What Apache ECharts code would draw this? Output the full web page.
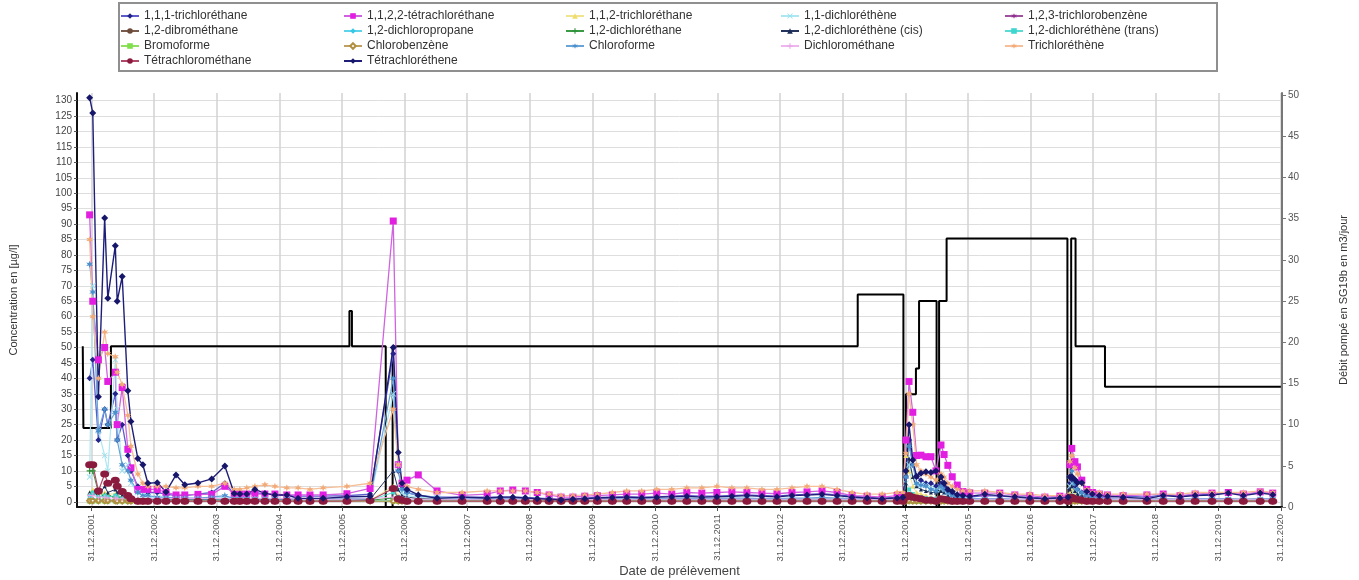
<!DOCTYPE html>
<html><head><meta charset="utf-8">
<script src="https://cdn.jsdelivr.net/npm/echarts@6/dist/echarts.min.js"></script>
<style>html,body{margin:0;padding:0;background:#fff}#c{width:1359px;height:580px}</style>
</head><body><div id="c"></div>
<script>
// ---------- DATA ----------
// sampling dates as decimal years
const sampleDates = [
 2001.97,2002.02,2002.11,2002.21,2002.26,2002.38,2002.41,2002.49,2002.58,2002.63,2002.74,2002.82,2002.90,2003.05,
 2003.19,2003.35,2003.49,2003.70,2003.92,2004.13,2004.28,2004.37,2004.48,2004.61,2004.77,2004.93,2005.12,2005.30,2005.49,2005.70,2006.08,2006.45,
 2006.82,2006.90,2006.96,2007.04,2007.22,2007.52,2007.92,2008.32,2008.53,
 2008.73,2008.93,2009.12,2009.31,2009.50,2009.69,2009.88,2010.08,2010.32,2010.55,2010.79,2011.03,2011.27,2011.51,2011.75,2011.99,2012.23,2012.47,2012.71,2012.95,2013.19,2013.43,2013.67,2013.91,2014.15,2014.39,2014.63,2014.87,
 2014.96,2015.01,2015.06,2015.12,2015.18,2015.25,2015.33,2015.41,2015.49,2015.57,2015.62,2015.68,2015.75,2015.83,2015.92,2016.03,
 2016.27,2016.51,2016.75,2016.99,2017.23,2017.47,
 2017.60,2017.63,2017.66,2017.71,2017.75,2017.82,2017.90,2017.99,2018.10,2018.23,
 2018.48,2018.86,2019.12,2019.39,2019.63,2019.90,2020.16,2020.40,2020.67,2020.87
];

const trichloroethane111 = [
 40,46,20,30,25,35,20,25,15,10,5,4,3,3,
 2.5,2,2,2.5,3,6,2.5,2.5,2.5,3,2.5,2.2,2,1.8,1.8,1.8,2,2.5,
 48,10,5,3,2,1.5,1.5,1.5,1.5,
 1.5,1.4,1.2,1,0.8,1,1.2,1.4,1.5,1.6,1.5,1.6,1.8,2,1.8,1.8,2,2.2,2,1.8,2.2,2.4,2.6,2.2,1.8,1.4,1.2,1.4,
 1.5,8,20,12,8,7,6,6,5,6,5,3.5,2.5,2,1.8,1.5,
 2,1.8,1.5,1.5,1.2,1.4,
 1.2,6,7,5,4,3,2,1.8,1.5,1.5,
 1.8,1.5,2.2,1.8,2.2,2.4,3,2.2,3,2.6
];
const tetrachloroethane1122 = [
 93,65,46,50,39,42,25,37,17,11,4,4,4,4,
 3,2.2,2.2,2.4,2.4,5,2.5,2.5,2.5,2.5,2.5,2.5,2.2,2.2,2.2,2.2,2.6,4.3,
 91,12,6,7,8.7,3.5,2.1,2.5,3.5,
 3.8,3.5,3.0,2.2,1.5,1.5,1.8,2.0,2.2,2.5,2.5,2.8,2.5,3.0,2.8,3.0,3.2,3.0,2.8,2.6,3.0,3.2,3.5,3.0,2.0,1.8,1.5,2.0,
 2,20,39,29,15,15.1,14.6,14.6,10,18.4,15.3,11.8,8.1,5.4,3.3,2.9,
 2.8,2.8,2.2,2.0,1.5,1.8,
 1.5,12,17.3,13,11.3,7,4,3,2.5,2.2,
 2.0,2.2,2.5,2.0,2.5,2.8,3.0,2.5,3.2,2.8
];
const trichloroethane112 = [
 3,4,2,3,2.5,2.5,2,1.5,1,0.8,0.6,0.5,0.5,0.5,
 0.5,0.5,0.5,0.5,0.5,0.6,0.5,0.5,0.5,0.5,0.5,0.5,0.5,0.4,0.4,0.4,0.5,0.5,
 5,2,1,0.8,0.6,0.5,0.5,0.5,0.5,
 0.5,0.5,0.4,0.4,0.4,0.4,0.4,0.5,0.5,0.5,0.5,0.5,0.5,0.5,0.5,0.5,0.5,0.5,0.5,0.5,0.5,0.5,0.5,0.5,0.5,0.4,0.4,0.5,
 0.5,15,10,5,3,2.5,2,1.5,1.2,1.5,1.2,1,0.8,0.6,0.5,0.5,
 0.5,0.5,0.5,0.5,0.5,0.5,
 0.5,3,4,2.5,1.5,1,0.8,0.6,0.5,0.5,
 0.5,0.5,0.5,0.5,0.5,0.5,0.5,0.5,0.5,0.5
];
const dichloroethene11 = [
 8,70,23,15,10,46,30,10,12,6,3,2,1.5,1,
 1,0.8,0.8,0.8,1,1.5,0.8,0.8,0.8,0.8,0.8,0.8,0.8,0.6,0.6,0.6,0.8,1,
 35,12,3,2,1.5,1,0.8,0.8,0.8,
 0.8,0.8,0.7,0.6,0.5,0.5,0.6,0.6,0.7,0.8,0.8,0.8,0.8,0.9,0.8,0.8,0.9,0.9,0.8,0.8,0.9,0.9,1,0.9,0.8,0.7,0.6,0.7,
 0.8,6,12,8,5,5.4,5.4,4.5,4,4,3,2.5,1.5,1.2,1,0.8,
 0.8,0.8,0.6,0.6,0.6,0.6,
 0.6,5,6,4,3,2,1.5,1,0.8,0.8,
 0.6,0.6,0.7,0.6,0.7,0.7,0.8,0.7,0.8,0.7
];
const trichlorobenzene123 = [
 0.3,0.3,0.3,0.3,0.3,0.3,0.3,0.2,0.2,0.2,0.2,0.2,0.2,0.2,
 0.2,0.2,0.2,0.2,0.2,0.2,0.2,0.2,0.2,0.2,0.2,0.2,0.2,0.2,0.2,0.2,0.2,0.2,
 0.3,0.2,0.2,0.2,0.2,0.2,0.2,0.2,0.2,
 0.2,0.2,0.2,0.2,0.2,0.2,0.2,0.2,0.2,0.2,0.2,0.2,0.2,0.2,0.2,0.2,0.2,0.2,0.2,0.2,0.2,0.2,0.2,0.2,0.2,0.2,0.2,0.2,
 0.2,0.3,0.4,0.3,0.2,0.2,0.2,0.2,0.2,0.2,0.2,0.2,0.2,0.2,0.2,0.2,
 0.2,0.2,0.2,0.2,0.2,0.2,
 0.2,0.3,0.3,0.2,0.2,0.2,0.2,0.2,0.2,0.2,
 0.2,0.2,0.2,0.2,0.2,0.2,0.2,0.2,0.2,0.2
];
const dibromoethane12 = [
 0.5,0.5,0.4,0.4,0.3,0.3,0.3,0.3,0.2,0.2,0.2,0.2,0.2,0.2,
 0.2,0.2,0.2,0.2,0.2,0.2,0.2,0.2,0.2,0.2,0.2,0.2,0.2,0.2,0.2,0.2,0.2,0.2,
 0.2,0.2,0.2,0.2,0.2,0.2,0.2,0.2,0.2,
 0.2,0.2,0.2,0.2,0.2,0.2,0.2,0.2,0.2,0.2,0.2,0.2,0.2,0.2,0.2,0.2,0.2,0.2,0.2,0.2,0.2,0.2,0.2,0.2,0.2,0.2,0.2,0.2,
 0.2,0.2,0.3,0.2,0.2,0.2,0.2,0.2,0.2,0.2,0.2,0.2,0.2,0.2,0.2,0.2,
 0.2,0.2,0.2,0.2,0.2,0.2,
 0.2,0.2,0.2,0.2,0.2,0.2,0.2,0.2,0.2,0.2,
 0.2,0.2,0.2,0.2,0.2,0.2,0.2,0.2,0.2,0.2
];
const dichloropropane12 = [
 1,1,0.8,0.8,0.6,0.6,0.5,0.5,0.4,0.4,0.3,0.3,0.3,0.3,
 0.3,0.3,0.3,0.3,0.3,0.3,0.3,0.3,0.3,0.3,0.3,0.3,0.3,0.3,0.3,0.3,0.3,0.3,
 0.5,0.3,0.3,0.3,0.3,0.3,0.3,0.3,0.3,
 0.3,0.3,0.3,0.3,0.3,0.3,0.3,0.3,0.3,0.3,0.3,0.3,0.3,0.3,0.3,0.3,0.3,0.3,0.3,0.3,0.3,0.3,0.3,0.3,0.3,0.3,0.3,0.3,
 0.3,0.6,0.8,0.5,0.4,0.4,0.3,0.3,0.3,0.3,0.3,0.3,0.3,0.3,0.3,0.3,
 0.3,0.3,0.3,0.3,0.3,0.3,
 0.3,0.5,0.5,0.4,0.3,0.3,0.3,0.3,0.3,0.3,
 0.3,0.3,0.3,0.3,0.3,0.3,0.3,0.3,0.3,0.3
];
const dichloroethane12 = [
 10,10,3,2,2,1.5,1.5,1,1,0.8,0.5,0.5,0.5,0.5,
 0.5,0.5,0.5,0.5,0.5,0.5,0.5,0.5,0.5,0.5,0.5,0.5,0.5,0.5,0.5,0.5,0.5,0.5,
 1.2,0.8,0.6,0.5,0.5,0.5,0.5,0.5,0.5,
 0.5,0.5,0.5,0.5,0.5,0.5,0.5,0.5,0.5,0.5,0.5,0.5,0.5,0.5,0.5,0.5,0.5,0.5,0.5,0.5,0.5,0.5,0.5,0.5,0.5,0.5,0.5,0.5,
 0.5,1.5,2,1.5,1,1,0.8,0.8,0.6,0.8,0.6,0.5,0.5,0.5,0.5,0.5,
 0.5,0.5,0.5,0.5,0.5,0.5,
 0.5,1,1,0.8,0.6,0.5,0.5,0.5,0.5,0.5,
 0.5,0.5,0.5,0.5,0.5,0.5,0.5,0.5,0.5,0.5
];
const dichloroetheneCis = [
 3,3,2,5,3,4,3,2,1.5,1,0.8,0.8,0.8,0.8,
 0.8,0.8,0.8,0.8,0.8,0.8,0.8,0.8,0.8,0.8,0.8,0.8,0.8,0.8,0.8,0.8,0.8,0.8,
 10,4,2,1.5,1,0.8,0.8,0.8,0.8,
 0.8,0.8,0.8,0.8,0.8,0.8,0.8,0.8,0.8,0.8,0.8,0.8,0.8,0.8,0.8,0.8,0.8,0.8,0.8,0.8,0.8,0.8,0.8,0.8,0.8,0.8,0.8,0.8,
 0.8,6,14,8,5,4,3.5,3,3,3.5,3,2,1.5,1,1,0.8,
 0.8,0.8,0.8,0.8,0.8,0.8,
 0.8,4,5,3.5,2.5,2,1.5,1,0.8,0.8,
 0.8,0.8,0.8,0.8,0.8,0.8,0.8,0.8,0.8,0.8
];
const dichloroetheneTrans = [
 2,3,1.5,2,1.5,2,1.5,1,0.8,0.6,0.5,0.5,0.5,0.5,
 0.5,0.5,0.5,0.5,0.5,0.6,0.5,0.5,0.5,0.5,0.5,0.5,0.5,0.4,0.4,0.4,0.5,0.5,
 3,1.5,0.8,0.6,0.5,0.5,0.5,0.5,0.5,
 0.5,0.5,0.5,0.5,0.5,0.5,0.5,0.5,0.5,0.5,0.5,0.5,0.5,0.5,0.5,0.5,0.5,0.5,0.5,0.5,0.5,0.5,0.5,0.5,0.5,0.5,0.5,0.5,
 0.5,2,4,2.5,1.5,1.5,1.2,1,1,1.2,1,0.8,0.6,0.5,0.5,0.5,
 0.5,0.5,0.5,0.5,0.5,0.5,
 0.5,1.5,2,1.5,1,0.8,0.6,0.5,0.5,0.5,
 0.5,0.5,0.5,0.5,0.5,0.5,0.5,0.5,0.5,0.5
];
const bromoforme = [
 0.2,0.2,0.2,0.2,0.2,0.2,0.2,0.2,0.2,0.2,0.2,0.2,0.2,0.2,
 0.2,0.2,0.2,0.2,0.2,0.2,0.2,0.2,0.2,0.2,0.2,0.2,0.2,0.2,0.2,0.2,0.2,0.2,
 0.2,0.2,0.2,0.2,0.2,0.2,0.2,0.2,0.2,
 0.2,0.2,0.2,0.2,0.2,0.2,0.2,0.2,0.2,0.2,0.2,0.2,0.2,0.2,0.2,0.2,0.2,0.2,0.2,0.2,0.2,0.2,0.2,0.2,0.2,0.2,0.2,0.2,
 0.2,0.2,0.2,0.2,0.2,0.2,0.2,0.2,0.2,0.2,0.2,0.2,0.2,0.2,0.2,0.2,
 0.2,0.2,0.2,0.2,0.2,0.2,
 0.2,0.2,0.2,0.2,0.2,0.2,0.2,0.2,0.2,0.2,
 0.2,0.2,0.2,0.2,0.2,0.2,0.2,0.2,0.2,0.2
];
const chlorobenzene = [
 0.3,0.3,0.3,0.3,0.3,0.3,0.2,0.2,0.2,0.2,0.2,0.2,0.2,0.2,
 0.2,0.2,0.2,0.2,0.2,0.2,0.2,0.2,0.2,0.2,0.2,0.2,0.2,0.2,0.2,0.2,0.2,0.2,
 0.2,0.2,0.2,0.2,0.2,0.2,0.2,0.2,0.2,
 0.2,0.2,0.2,0.2,0.2,0.2,0.2,0.2,0.2,0.2,0.2,0.2,0.2,0.2,0.2,0.2,0.2,0.2,0.2,0.2,0.2,0.2,0.2,0.2,0.2,0.2,0.2,0.2,
 0.2,0.2,0.3,0.2,0.2,0.2,0.2,0.2,0.2,0.2,0.2,0.2,0.2,0.2,0.2,0.2,
 0.2,0.2,0.2,0.2,0.2,0.2,
 0.2,0.2,0.2,0.2,0.2,0.2,0.2,0.2,0.2,0.2,
 0.2,0.2,0.2,0.2,0.2,0.2,0.2,0.2,0.2,0.2
];
const chloroforme = [
 77,68,23,30,25,29,20,12,10,7,3,2,2,1.5,
 1.5,1.2,1.2,1.2,1.5,2,1,1,1,1,1,1,1,0.8,0.8,0.8,1,1.2,
 40,10,4,3,2,1.5,1,1,1,
 1,1,0.8,0.8,0.6,0.6,0.8,0.8,1,1,1,1,1,1.2,1,1,1.2,1.2,1,1,1.2,1.2,1.4,1.2,1,0.8,0.8,1,
 1,8,18,12,6,5.4,5,4,3.5,5,4,3,2,1.5,1.2,1,
 1,1,0.8,0.8,0.8,0.8,
 0.8,8,10,6,4,3,2,1.5,1.2,1,
 0.8,0.8,1,0.8,1,1,1,0.8,1,1
];
const dichloromethane = [
 2,2,1.5,1.5,1.2,1.2,1,1,1,1,1,1,1,1,
 1,1,1,1,1,1,1,1,1,1,1,1,1,0.8,0.8,0.8,0.8,1,
 1.5,1,1,0.8,0.8,0.8,0.8,0.8,0.8,
 0.8,0.8,0.8,0.8,0.8,0.8,0.8,0.8,0.8,0.8,0.8,0.8,0.8,0.8,0.8,0.8,0.8,0.8,0.8,0.8,0.8,0.8,0.8,0.8,0.8,0.8,0.8,0.8,
 0.8,1.2,1.5,1.2,1,1,1,1,0.8,1,0.8,0.8,0.8,0.8,0.8,0.8,
 0.8,0.8,0.8,0.8,0.8,0.8,
 0.8,1,1.2,1,0.8,0.8,0.8,0.8,0.8,0.8,
 0.8,0.8,0.8,0.8,0.8,0.8,0.8,0.8,0.8,0.8
];
const trichloroethene = [
 85,60,40,55,48,47,42,38,28,18,9,6,5,5,
 5,4.5,4.5,5,5,6,4,4,4.5,5,5.5,5,4.5,4.5,4,4.5,5,6,
 30,12,6,5,4,3,3,3.5,3.5,
 3.5,3.5,3,2.5,2,2,2.2,2.5,3,3.5,3.5,4,4,4.5,4.5,5,4.5,4.5,4,4,4.5,5,5,4,3,2.5,2.5,3,
 3,15.7,35,25,12,10,9,8,7,9,8,6,5,4,3.5,3.5,
 3.5,3,2.5,2.5,2,2,
 2,13,15,11,9,6,4,3,3,2.5,
 2.5,2.5,2.5,2.5,3,3,3,3,3.5,3
];
const tetrachloromethane = [
 12,12,3.5,9,6,7,5,3.3,2,1,0.2,0.2,0.2,0.2,
 0.2,0.2,0.2,0.2,0.2,0.2,0.2,0.2,0.2,0.2,0.2,0.2,0.2,0.2,0.2,0.2,0.2,0.4,
 4.3,1,0.5,0.2,0.2,0.2,0.2,0.2,0.2,
 0.2,0.2,0.2,0.2,0.2,0.2,0.2,0.2,0.2,0.2,0.2,0.2,0.2,0.2,0.2,0.2,0.2,0.2,0.2,0.2,0.2,0.2,0.2,0.2,0.2,0.2,0.2,0.2,
 0.2,1.5,2,1.5,1.2,1,0.5,0.5,0.2,1,0.8,0.5,0.2,0.2,0.2,0.2,
 0.2,0.2,0.2,0.2,0.2,0.2,
 0.2,1.5,1.5,1,0.8,0.5,0.2,0.2,0.2,0.2,
 0.2,0.2,0.2,0.2,0.2,0.2,0.2,0.2,0.2,0.2
];
const tetrachloroethene = [
 131,126,34,92,66,83,65,73,36,26,14,12,6,6.2,
 3.2,8.7,5.5,6.1,7.4,11.6,2.7,2.5,2.5,4.0,2.7,2.2,2.2,1.1,1.1,1.1,1.6,1.8,
 50,16,6,4,2.2,1.1,1.5,1.2,1.5,
 1.5,1.2,1.0,0.8,0.6,0.8,1.0,1.2,1.4,1.5,1.3,1.5,1.6,1.8,1.5,1.6,1.8,2.0,1.8,1.6,2.0,2.2,2.4,2.0,1.5,1.2,1.0,1.2,
 1.5,10,25,13.5,8.3,9.2,9.7,9.5,10,8,6,4,3.3,2.3,2.0,1.8,
 2.4,2.0,1.6,1.2,1.0,1.2,
 1.5,8,8.1,7.1,6.2,6.2,3.3,2.5,2.0,1.8,
 1.5,1.0,2.0,1.6,2.0,2.2,2.8,2.0,2.8,2.3
];

// pumped flow (right axis), change points
const flowDates  = [2001.86,2001.87,2002.31,2006.12,2006.16,2006.70,2006.81,2014.24,2014.97,2015.01,2015.17,2015.22,2015.50,2015.54,2015.66,2017.59,2017.65,2017.72,2018.19,2021.00];
const flowValues = [19.5,   9.6,    19.5,   23.8,   19.5,   0,      19.5,   25.8,   0,      13.7,   16.8,   25.0,   0,      25.0,   32.6,   0,      32.6,   19.5,   14.6,   14.6];

const yearTickValues = [2002,2003,2004,2005,2006,2007,2008,2009,2010,2011,2012,2013,2014,2015,2016,2017,2018,2019,2020,2021];
const yearTickLabels = ['31.12.2001','31.12.2002','31.12.2003','31.12.2004','31.12.2005','31.12.2006','31.12.2007','31.12.2008','31.12.2009','31.12.2010','31.12.2011','31.12.2012','31.12.2013','31.12.2014','31.12.2015','31.12.2016','31.12.2017','31.12.2018','31.12.2019','31.12.2020'];
const concTicks = [0,5,10,15,20,25,30,35,40,45,50,55,60,65,70,75,80,85,90,95,100,105,110,115,120,125,130];
const flowTicks = [0,5,10,15,20,25,30,35,40,45,50];

const seriesNames = ['1,1,1-trichloréthane','1,1,2,2-tétrachloréthane','1,1,2-trichloréthane','1,1-dichloréthène','1,2,3-trichlorobenzène',
 '1,2-dibrométhane','1,2-dichloropropane','1,2-dichloréthane','1,2-dichloréthène (cis)','1,2-dichloréthène (trans)',
 'Bromoforme','Chlorobenzène','Chloroforme','Dichlorométhane','Trichloréthène','Tétrachlorométhane','Tétrachloréthene'];
const seriesValues = [trichloroethane111,tetrachloroethane1122,trichloroethane112,dichloroethene11,trichlorobenzene123,
 dibromoethane12,dichloropropane12,dichloroethane12,dichloroetheneCis,dichloroetheneTrans,
 bromoforme,chlorobenzene,chloroforme,dichloromethane,trichloroethene,tetrachloromethane,tetrachloroethene];

// ---------- STYLE ----------
const STAR = 'path://M5,0L6.2,3.3L9.3,2.5L7.2,5L9.3,7.5L6.2,6.7L5,10L3.8,6.7L0.7,7.5L2.8,5L0.7,2.5L3.8,3.3Z';
const PLUS = 'path://M4,0H6V4H10V6H6V10H4V6H0V4H4Z';
const CROSS = 'path://M1,0L5,4L9,0L10,1L6,5L10,9L9,10L5,6L1,10L0,9L4,5L0,1Z';
const styles = {
 '1,1,1-trichloréthane': {color:'#23238a', line:'#5c5ccf', symbol:'diamond', size:6, w:1.3},
 '1,1,2,2-tétrachloréthane': {color:'#e21fe0', line:'#cf63df', symbol:'rect', size:7, w:1.3},
 '1,1,2-trichloréthane': {color:'#f0dc6a', line:'#f2e48e', symbol:'triangle', size:5, w:1},
 '1,1-dichloréthène': {color:'#96dfee', line:'#ade7f1', symbol:CROSS, size:6, w:1.2},
 '1,2,3-trichlorobenzène': {color:'#8e2f8e', line:'#a050a0', symbol:STAR, size:6, w:1},
 '1,2-dibrométhane': {color:'#6e4a3a', line:'#7a5a4a', symbol:'circle', size:5, w:1},
 '1,2-dichloropropane': {color:'#35c9e6', line:'#5fd3ea', symbol:'diamond', size:5, w:1},
 '1,2-dichloréthane': {color:'#2f8f3a', line:'#3a9a45', symbol:PLUS, size:6, w:1},
 '1,2-dichloréthène (cis)': {color:'#1b2b55', line:'#24345e', symbol:'triangle', size:4, w:1},
 '1,2-dichloréthène (trans)': {color:'#3fd6cf', line:'#5adcd5', symbol:'rect', size:4, w:1},
 'Bromoforme': {color:'#7fe04c', line:'#8fe060', symbol:'rect', size:5, w:1},
 'Chlorobenzène': {color:'#b09040', line:'#c0a060', symbol:'emptyDiamond', size:5, w:1},
 'Chloroforme': {color:'#4b8fcc', line:'#6aa3d8', symbol:STAR, size:7, w:1.2},
 'Dichlorométhane': {color:'#eba6ea', line:'#efb5ee', symbol:PLUS, size:5, w:1},
 'Trichloréthène': {color:'#f2aa78', line:'#f6bf98', symbol:STAR, size:7, w:1.3},
 'Tétrachlorométhane': {color:'#8a1a3e', line:'#b24868', symbol:'circle', size:[9,7], w:1.2},
 'Tétrachloréthene': {color:'#16166a', line:'#1e1e78', symbol:'diamond', size:7, w:1.4}
};
const legendCols = [
 ['1,1,1-trichloréthane','1,2-dibrométhane','Bromoforme','Tétrachlorométhane'],
 ['1,1,2,2-tétrachloréthane','1,2-dichloropropane','Chlorobenzène','Tétrachloréthene'],
 ['1,1,2-trichloréthane','1,2-dichloréthane','Chloroforme'],
 ['1,1-dichloréthène','1,2-dichloréthène (cis)','Dichlorométhane'],
 ['1,2,3-trichlorobenzène','1,2-dichloréthène (trans)','Trichloréthène']
];
const legendLeft = [120, 343, 565, 780, 1004];
const FONT = '"Liberation Sans", Arial, sans-serif';

const series = seriesNames.map((name, i) => {
  const st = styles[name];
  const vals = seriesValues[i];
  return {
    name, type:'line', yAxisIndex:0,
    data: sampleDates.map((d, j) => [d, vals[j]]).filter(p => p[1] != null),
    symbol: st.symbol, symbolSize: st.size, showAllSymbol: true,
    lineStyle: {color: st.line, width: st.w},
    itemStyle: {color: st.color},
    emphasis: {disabled: true}
  };
});
series.unshift({
  name:'Débit pompé', type:'line', yAxisIndex:1, step:'end', showSymbol:false, symbol:'none',
  data: flowDates.map((d, i) => [d, flowValues[i]]),
  lineStyle:{color:'#000', width:2}, itemStyle:{color:'#000'}, emphasis:{disabled:true}
});

const option = {
  animation:false,
  backgroundColor:'#fff',
  textStyle:{fontFamily:FONT},
  graphic:[{type:'rect', shape:{x:119, y:3, width:1098, height:68},
            style:{fill:'none', stroke:'#8f8f8f', lineWidth:2}, z:-1, silent:true}],
  legend: legendCols.map((col, k) => ({
    data: col, orient:'vertical', left: legendLeft[k], top: 9, padding:0,
    itemGap: 1, itemWidth: 18, itemHeight: 7, selectedMode:false,
    textStyle:{fontSize:12, color:'#333', fontFamily:FONT, lineHeight:14}
  })),
  grid:{left:77, right:77, top:93, bottom:73, containLabel:false, outerBoundsMode:'none'},
  xAxis:{
    type:'value', min:2001.768, max:2021.018,
    name:'Date de prélèvement', nameLocation:'middle', nameGap:58, nameMoveOverlap:false,
    nameTextStyle:{fontSize:13, color:'#444', fontFamily:FONT},
    axisLine:{show:true, onZero:false, lineStyle:{color:'#111', width:2}},
    axisTick:{show:true, customValues: yearTickValues, length:4, lineStyle:{color:'#555'}},
    axisLabel:{customValues: yearTickValues, rotate:90, fontSize:9.5, color:'#555', margin:7, fontFamily:FONT,
      formatter: v => { const i = yearTickValues.indexOf(Math.round(v)); return i >= 0 ? yearTickLabels[i] : ''; }},
    splitLine:{show:true, lineStyle:{color:'#d2d2d2', width:1.5}}
  },
  yAxis:[{
    type:'value', min:-1.7, max:132.5, position:'left',
    name:'Concentration en [µg/l]', nameLocation:'middle', nameGap:58, nameRotate:90,
    nameTextStyle:{fontSize:11, color:'#333', fontFamily:FONT},
    axisLine:{show:true, lineStyle:{color:'#111', width:2}},
    axisTick:{show:true, customValues: concTicks, length:3, lineStyle:{color:'#555'}},
    axisLabel:{customValues: concTicks, fontSize:10, color:'#444', margin:5, fontFamily:FONT},
    splitLine:{show:true, lineStyle:{color:'#dedede', width:1}}
  },{
    type:'value', min:0, max:50.25, position:'right',
    name:'Débit pompé en SG19b en m3/jour', nameLocation:'middle', nameGap:56, nameRotate:90,
    nameTextStyle:{fontSize:11, color:'#333', fontFamily:FONT},
    axisLine:{show:true, lineStyle:{color:'#777', width:2}},
    axisTick:{show:true, customValues: flowTicks, length:4, lineStyle:{color:'#777'}},
    axisLabel:{customValues: flowTicks, fontSize:10, color:'#555', margin:6, fontFamily:FONT},
    splitLine:{show:false}
  }],
  series
};
const chart = echarts.init(document.getElementById('c'), null, {renderer:'canvas'});
chart.setOption(option);
</script>
</body></html>
